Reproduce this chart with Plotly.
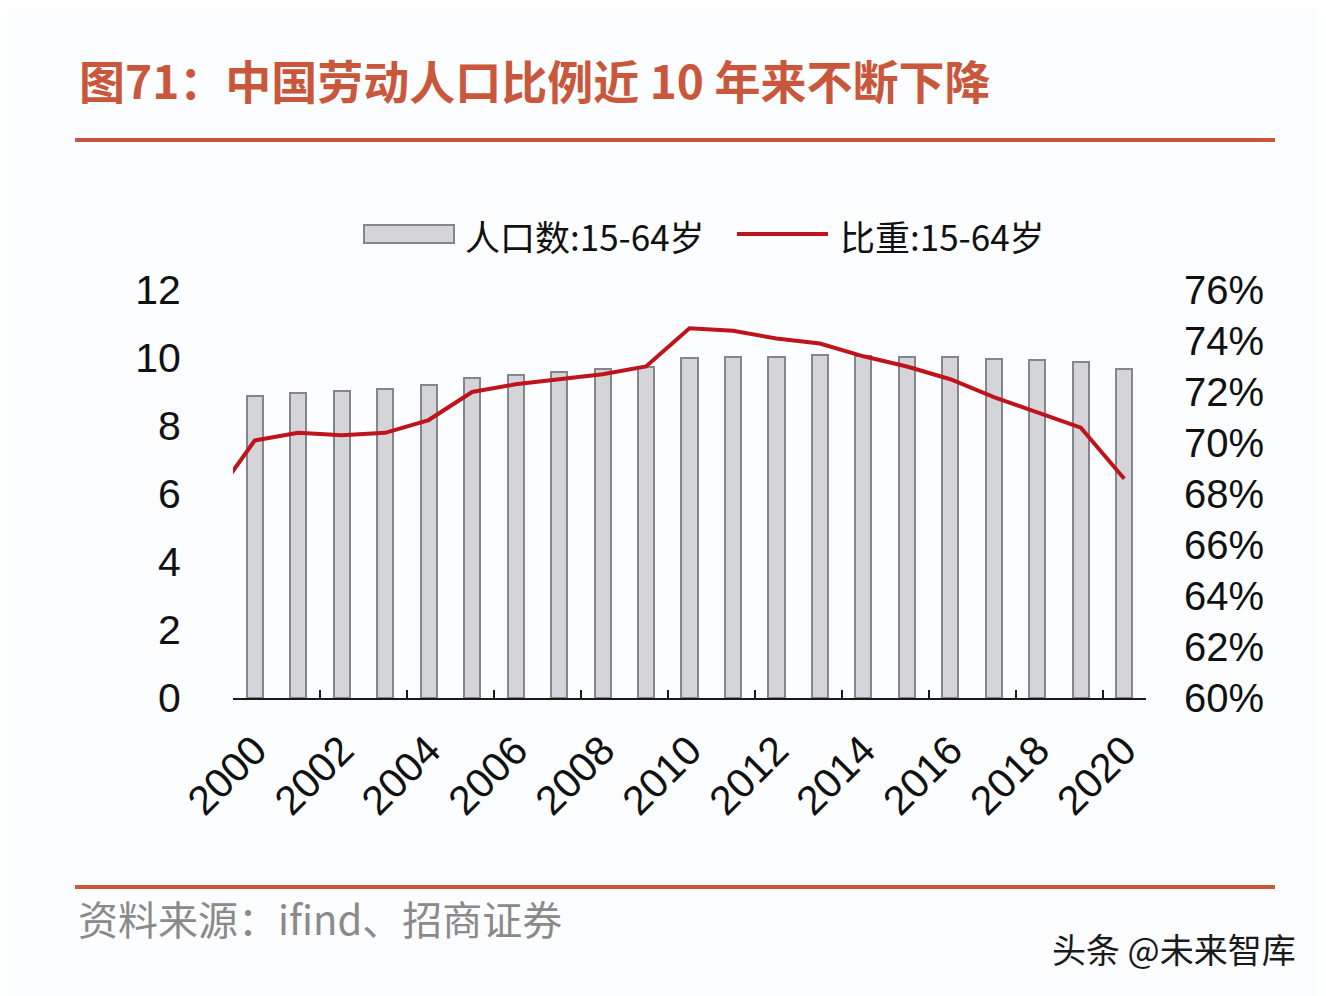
import plotly.graph_objects as go

# ---- data ----
years = list(range(2000, 2021))
pop_1564 = [8.88, 8.98, 9.03, 9.09, 9.22, 9.42, 9.51, 9.58, 9.67, 9.74, 9.99,
            10.03, 10.04, 10.10, 10.06, 10.04, 10.03, 9.98, 9.94, 9.89, 9.68]
ratio_years = list(range(1999, 2021))
ratio_1564 = [0.677, 0.701, 0.704, 0.703, 0.704, 0.709, 0.720, 0.723, 0.725, 0.727, 0.730,
              0.745, 0.744, 0.741, 0.739, 0.734, 0.730, 0.725, 0.718, 0.712, 0.706, 0.686]
xtick_years = list(range(2000, 2021, 2))
xtick_bounds = [y - 0.5 for y in range(2000, 2021, 2)]
left_ticks = [0, 2, 4, 6, 8, 10, 12]
right_ticks = [0.60, 0.62, 0.64, 0.66, 0.68, 0.70, 0.72, 0.74, 0.76]

# page body adds an 8px margin; work in reference pixels and shift
OFF = 8
W, H = 1326 - OFF, 996 - OFF
L, R, T, B = 233 - OFF, 1146 - OFF, 290 - OFF, 698 - OFF


def px(x):
    return (x - OFF - L) / (R - L)


def py(y):
    return (B - (y - OFF)) / (B - T)


ACCENT = "#c9573b"
NUM_FONT = "Arial, Liberation Sans, sans-serif"
CJK_FONT = "Noto Sans CJK SC, sans-serif"

fig = go.Figure()
fig.add_trace(go.Bar(
    x=years, y=pop_1564, name="人口数:15-64岁", width=0.37,
    marker=dict(color="#d5d5d9", line=dict(color="#85858d", width=2)),
    xaxis="x", yaxis="y",
))
fig.add_trace(go.Scatter(
    x=ratio_years, y=ratio_1564, name="比重:15-64岁", mode="lines",
    line=dict(color="#c0141c", width=4),
    xaxis="x", yaxis="y2",
))
# invisible trace to host the tick-mark axis
fig.add_trace(go.Scatter(x=[years[0]], y=[pop_1564[0]], mode="markers",
                         marker=dict(opacity=0), showlegend=False,
                         hoverinfo="skip", xaxis="x2", yaxis="y"))

fig.update_layout(
    width=W, height=H,
    margin=dict(l=L, r=W - R, t=T, b=H - B),
    paper_bgcolor="#fcfdfe", plot_bgcolor="#fcfdfe",
    showlegend=False,
    bargap=0,
    xaxis=dict(
        range=[1999.5, 2020.5], tickmode="array", tickvals=xtick_years,
        ticktext=[str(v) for v in xtick_years], tickangle=-45,
        ticks="outside", ticklen=10, tickcolor="rgba(0,0,0,0)",
        showgrid=False, zeroline=False,
        showline=True, linecolor="#1a1a1a", linewidth=1.5,
        tickfont=dict(family=NUM_FONT, size=41, color="#111"),
    ),
    xaxis2=dict(
        overlaying="x", range=[1999.5, 2020.5], tickmode="array",
        tickvals=xtick_bounds, showticklabels=False,
        ticks="inside", ticklen=8, tickwidth=1.5, tickcolor="#1a1a1a",
        showgrid=False, zeroline=False, showline=False, side="bottom",
        anchor="y",
    ),
    yaxis=dict(
        range=[0, 12], tickmode="array", tickvals=left_ticks,
        showgrid=False, zeroline=False, showline=False,
        ticks="outside", ticklen=43, tickcolor="rgba(0,0,0,0)",
        tickfont=dict(family=NUM_FONT, size=41, color="#111"),
    ),
    yaxis2=dict(
        overlaying="y", side="right", range=[0.60, 0.76], tickmode="array",
        tickvals=right_ticks, tickformat=".0%",
        showgrid=False, zeroline=False, showline=False,
        ticks="outside", ticklen=29, tickcolor="rgba(0,0,0,0)",
        tickfont=dict(family=NUM_FONT, size=40, color="#111"),
    ),
)

shapes = [
    dict(type="line", xref="paper", yref="paper", x0=px(75), x1=px(1275),
         y0=py(140), y1=py(140), line=dict(color=ACCENT, width=4)),
    dict(type="line", xref="paper", yref="paper", x0=px(75), x1=px(1275),
         y0=py(887), y1=py(887), line=dict(color=ACCENT, width=4)),
    # legend symbols
    dict(type="rect", xref="paper", yref="paper", x0=px(364), x1=px(454),
         y0=py(243), y1=py(225), fillcolor="#d5d5d9",
         line=dict(color="#85858d", width=2)),
    dict(type="line", xref="paper", yref="paper", x0=px(737), x1=px(828),
         y0=py(234), y1=py(234), line=dict(color="#c0141c", width=4)),
]

annotations = [
    dict(text="<b>图71：中国劳动人口比例近 10 年来不断下降</b>", xref="paper", yref="paper",
         x=px(77), y=py(79), xanchor="left", yanchor="middle", showarrow=False,
         font=dict(family=CJK_FONT, size=46, color=ACCENT)),
    dict(text="人口数:15-64岁", xref="paper", yref="paper",
         x=px(463), y=py(235), xanchor="left", yanchor="middle", showarrow=False,
         font=dict(family=CJK_FONT, size=35, color="#111")),
    dict(text="比重:15-64岁", xref="paper", yref="paper",
         x=px(838), y=py(235), xanchor="left", yanchor="middle", showarrow=False,
         font=dict(family=CJK_FONT, size=35, color="#111")),
    dict(text="资料来源：ifind、招商证券", xref="paper", yref="paper",
         x=px(76), y=py(918), xanchor="left", yanchor="middle", showarrow=False,
         font=dict(family=CJK_FONT, size=40, color="#8a8a8a")),
    dict(text="头条 @未来智库", xref="paper", yref="paper",
         x=px(1298), y=py(948), xanchor="right", yanchor="middle", showarrow=False,
         font=dict(family=CJK_FONT, size=34, color="#1a1a1a")),
]
fig.update_layout(shapes=shapes, annotations=annotations)

fig.write_html("out.html")
